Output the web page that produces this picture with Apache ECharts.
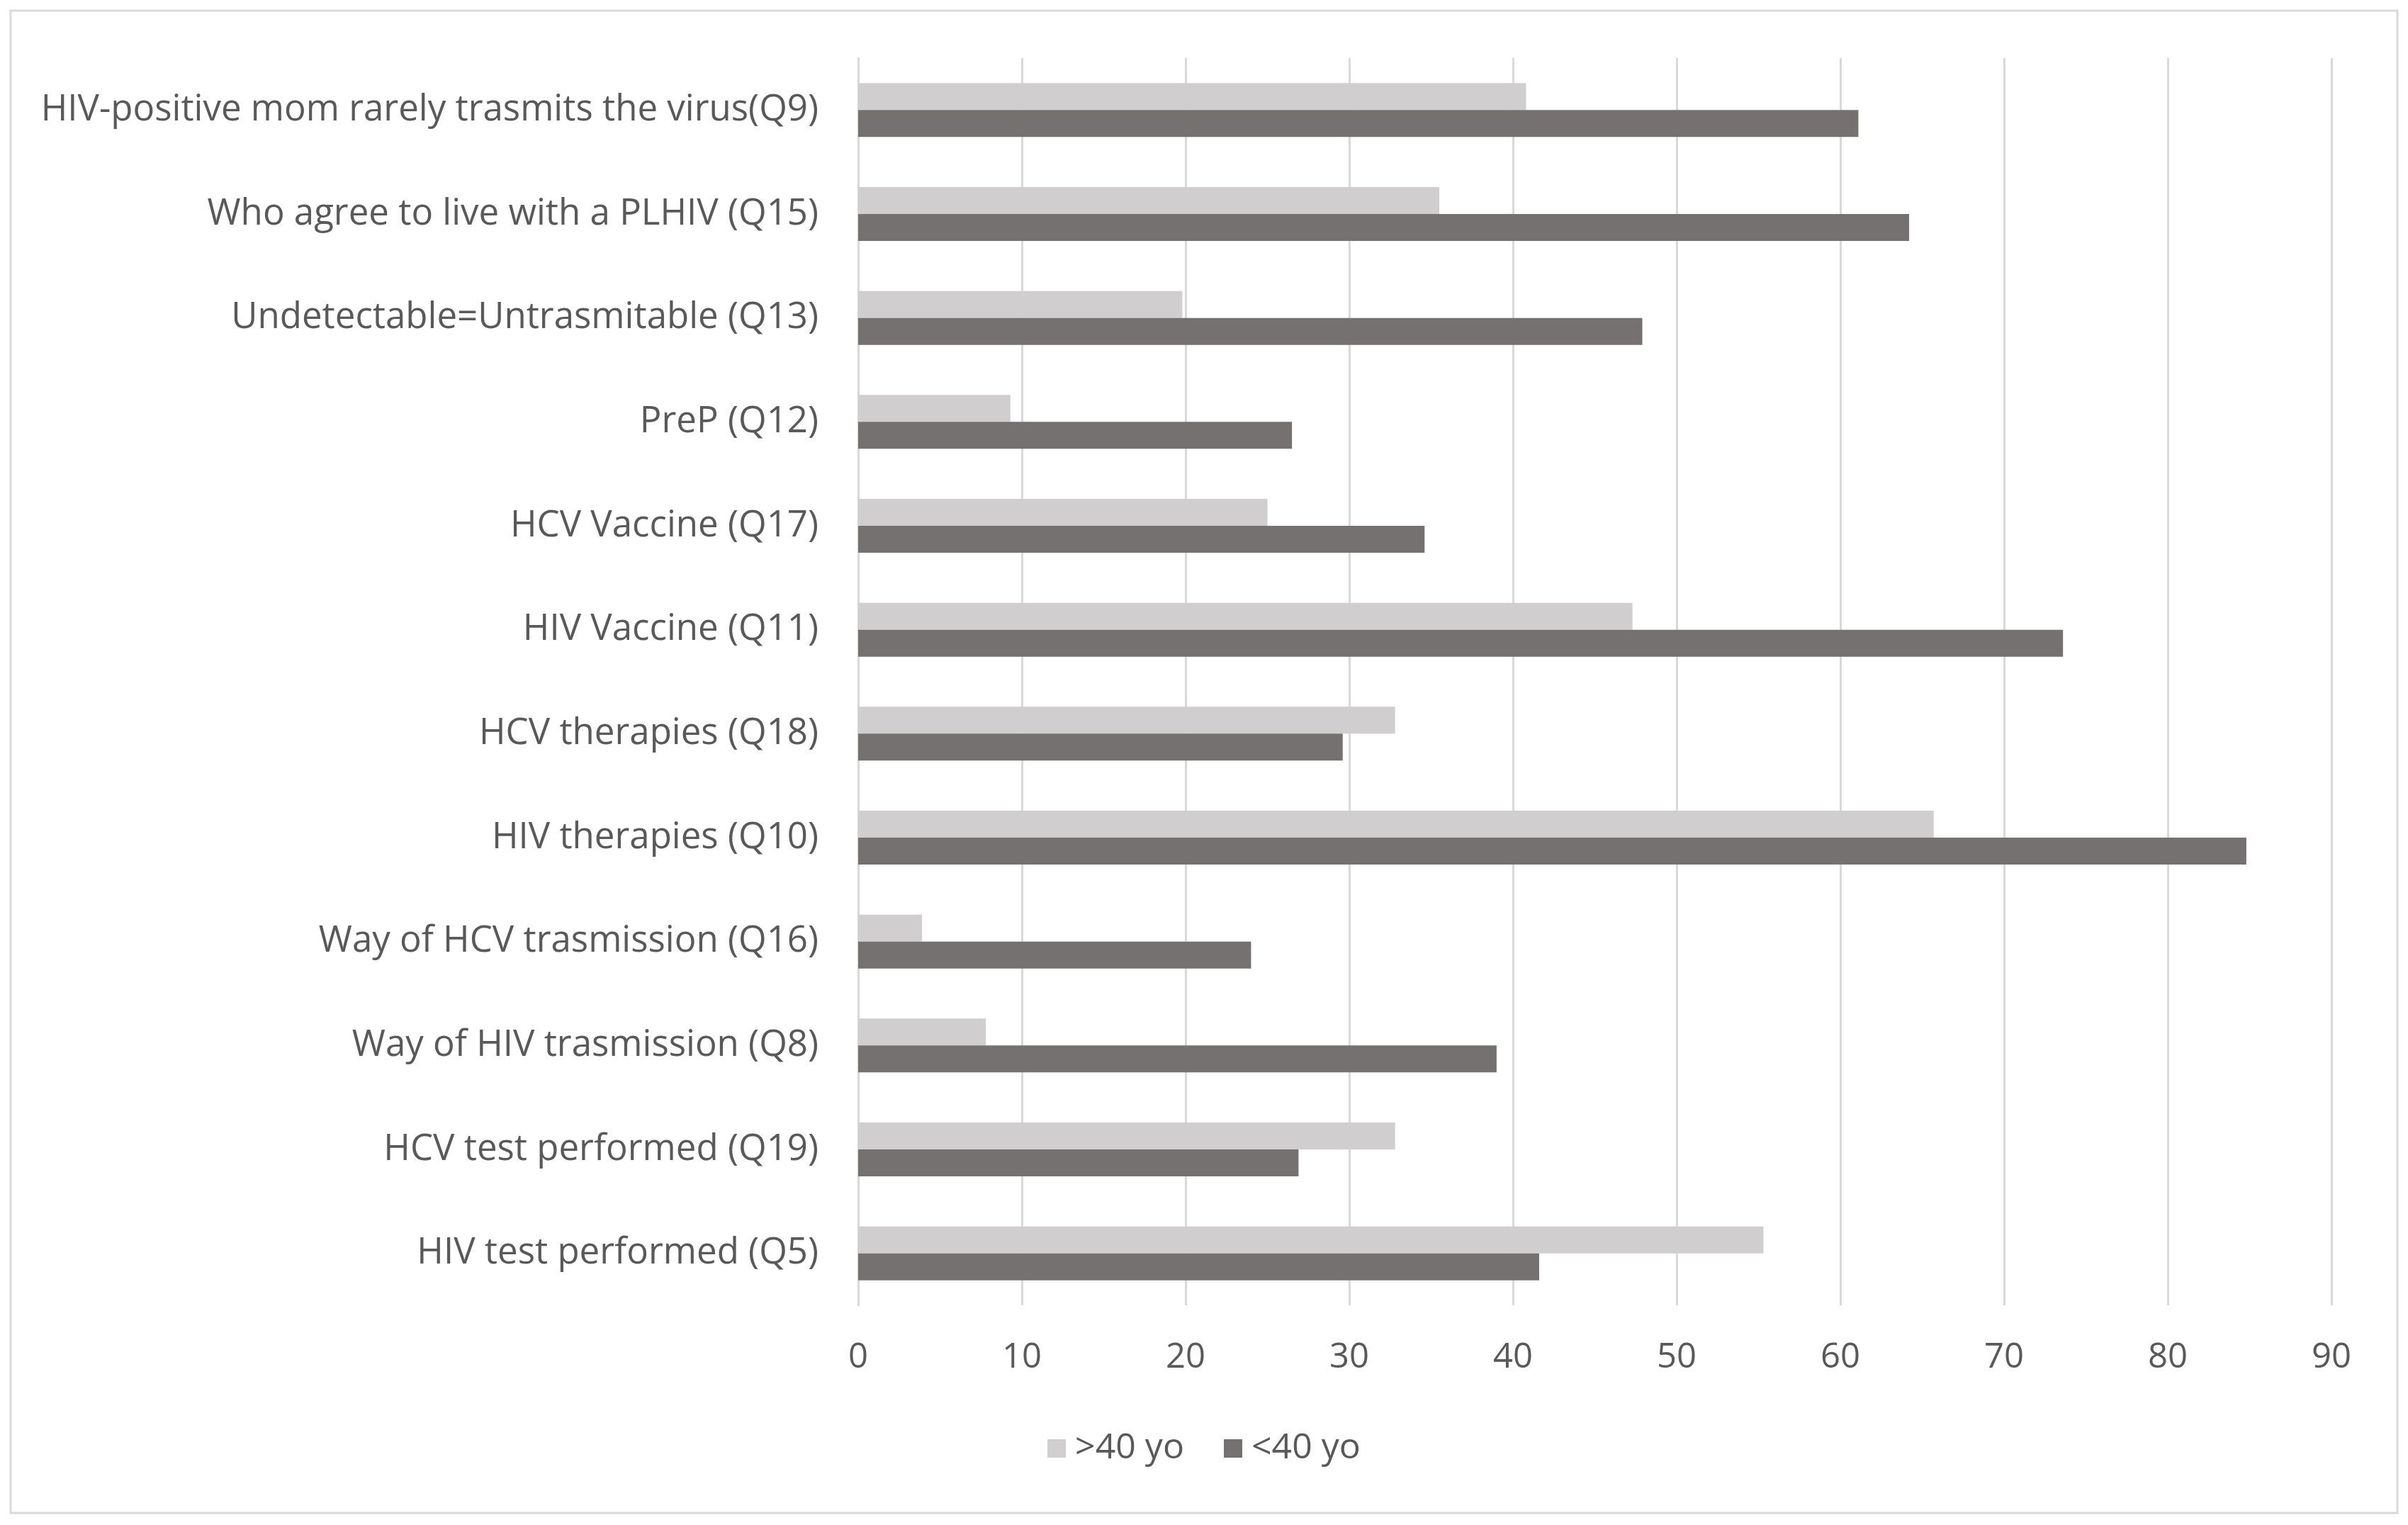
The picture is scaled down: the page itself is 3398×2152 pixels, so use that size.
<!DOCTYPE html>
<html>
<head>
<meta charset="utf-8">
<script src="https://cdn.jsdelivr.net/npm/echarts@6/dist/echarts.min.js"></script>
<style>
html,body{margin:0;padding:0;background:#fff;}
#chart{width:3398px;height:2152px;}
</style>
</head>
<body>
<div id="chart"></div>
<script>
// Categories top-to-bottom
const categories = [
  "HIV-positive mom rarely trasmits the virus(Q9)",
  "Who agree to live with a PLHIV (Q15)",
  "Undetectable=Untrasmitable (Q13)",
  "PreP (Q12)",
  "HCV Vaccine (Q17)",
  "HIV Vaccine (Q11)",
  "HCV therapies (Q18)",
  "HIV therapies (Q10)",
  "Way of HCV trasmission (Q16)",
  "Way of HIV trasmission (Q8)",
  "HCV test performed (Q19)",
  "HIV test performed (Q5)"
];
const seriesNames = [">40 yo", "<40 yo"];
const over40 = [40.8, 35.5, 19.8, 9.3, 25.0, 47.3, 32.8, 65.7, 3.9, 7.8, 32.8, 55.3];
const under40 = [61.1, 64.2, 47.9, 26.5, 34.6, 73.6, 29.6, 84.8, 24.0, 39.0, 26.9, 41.6];
const xTicks = [0, 10, 20, 30, 40, 50, 60, 70, 80, 90];

const FONT = "Open Sans";
const chart = echarts.init(document.getElementById('chart'));
chart.setOption({
  backgroundColor: '#ffffff',
  animation: false,
  graphic: [{
    type: 'rect',
    shape: {x: 15, y: 15, width: 3368, height: 2120},
    style: {fill: 'none', stroke: '#d9d9d9', lineWidth: 3},
    silent: true
  }],
  grid: {left: 1211, right: 108, top: 82, bottom: 310, containLabel: false},
  legend: {
    data: seriesNames,
    bottom: 78,
    left: 'center',
    itemWidth: 26,
    itemHeight: 26,
    itemGap: 56,
    icon: 'rect',
    textStyle: {fontFamily: FONT, fontSize: 50, color: '#595959', padding: [0,0,0,8]}
  },
  xAxis: {
    type: 'value',
    min: xTicks[0],
    max: xTicks[xTicks.length - 1],
    interval: 10,
    axisLine: {show: false},
    axisTick: {show: false},
    splitLine: {show: true, lineStyle: {color: '#d9d9d9', width: 3}},
    axisLabel: {fontFamily: FONT, fontSize: 49, color: '#595959', margin: 50}
  },
  yAxis: {
    type: 'category',
    data: categories,
    inverse: true,
    axisLine: {show: true, lineStyle: {color: '#d9d9d9', width: 3}},
    axisTick: {show: false},
    axisLabel: {fontFamily: FONT, fontSize: 51, color: '#595959', margin: 56, padding: [10, 0, 0, 0]}
  },
  series: [
    {name: seriesNames[0], type: 'bar', data: over40, barWidth: 38, barGap: '0%',
     itemStyle: {color: '#d0cece'}},
    {name: seriesNames[1], type: 'bar', data: under40, barWidth: 38, barGap: '0%',
     itemStyle: {color: '#767171'}}
  ]
});
</script>
</body>
</html>
